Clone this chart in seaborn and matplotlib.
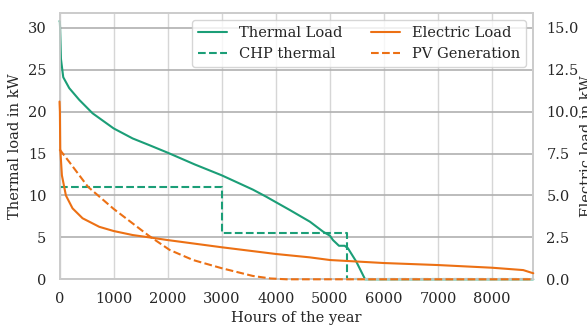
"""Annual load duration curves: thermal vs electric"""

import numpy as np
import pandas as pd
import seaborn as sns
from matplotlib import pyplot as plt

# thermal load duration curve (kW, left axis)
hours_thermal = [0, 7, 26, 69, 180, 365, 611, 1000, 1352, 1661, 2000, 2500, 3000,
                 3574, 3822, 4000, 4259, 4630, 4876, 5000, 5056, 5167, 5272, 5333,
                 5488, 5650, 8760]
thermal_load = [30.8, 30.7, 26.3, 24.1, 22.8, 21.4, 19.8, 18.0, 16.8, 16.0, 15.1, 13.7,
                12.4, 10.7, 9.85, 9.2, 8.26, 6.87, 5.67, 5.2, 4.68, 4.0, 4.0, 3.7,
                2.1, 0.0, 0.0]

# CHP thermal output (kW, left axis), step-wise
hours_chp = [0, 3010, 5315, 8760]
chp_thermal = [11.05, 5.55, 0.0, 0.0]

# electric load duration curve (kW, right axis)
hours_electric = [0, 7, 13, 44, 118, 241, 426, 735, 1000, 1352, 1661, 2000, 3000,
                  4000, 4624, 5000, 6000, 7000, 8000, 8574, 8700, 8760]
electric_load = [10.6, 10.0, 7.8, 6.2, 5.0, 4.23, 3.64, 3.13, 2.88, 2.64, 2.5, 2.34, 1.91,
                 1.51, 1.31, 1.15, 0.97, 0.85, 0.69, 0.55, 0.42, 0.36]

# PV generation duration curve (kW, right axis)
hours_pv = [0, 180, 525, 1000, 1650, 2037, 2469, 3000, 3574, 3900, 4200, 8760]
pv_generation = [7.75, 7.0, 5.52, 4.2, 2.6, 1.75, 1.15, 0.66, 0.2, 0.05, 0.0, 0.0]

green = '#1b9e77'
orange = '#ec7014'

sns.set_theme(style='whitegrid', context='notebook')
plt.rcParams['font.family'] = ['DejaVu Serif']
plt.rcParams.update({'font.size': 10.5, 'axes.labelsize': 10.5, 'xtick.labelsize': 10.5,
                     'ytick.labelsize': 10.5, 'legend.fontsize': 10.5})

fig, ax = plt.subplots(figsize=(5.87, 3.25), dpi=100)
fig.subplots_adjust(left=0.1014, right=0.9085, bottom=0.1406, top=0.961)

sns.lineplot(x=hours_thermal, y=thermal_load, ax=ax, color=green, lw=1.5,
             estimator=None, sort=False, label='Thermal Load', clip_on=False, zorder=3)
sns.lineplot(x=hours_chp, y=chp_thermal, ax=ax, color=green, lw=1.5, ls='--',
             drawstyle='steps-post', estimator=None, sort=False, label='CHP thermal',
             clip_on=False, zorder=3)

ax2 = ax.twinx()
ax2.grid(False)
sns.lineplot(x=hours_electric, y=electric_load, ax=ax2, color=orange, lw=1.5,
             estimator=None, sort=False, label='Electric Load', clip_on=False, zorder=3)
sns.lineplot(x=hours_pv, y=pv_generation, ax=ax2, color=orange, lw=1.5, ls='--',
             estimator=None, sort=False, label='PV Generation', clip_on=False, zorder=3)

ax.set_xlim(0, 8760)
ax.set_ylim(0, 31.8)
ax2.set_ylim(0, 15.9)
ax.set_yticks(np.arange(0, 31, 5))
ax2.set_yticks(np.arange(0, 15.1, 2.5))
ax.set_xticks(np.arange(0, 8001, 1000))
ax.tick_params(left=False, bottom=False)
ax2.tick_params(right=False)
ax.xaxis.grid(True, color='#d6d6d6', lw=1)
ax.yaxis.grid(True, color='#b0b0b0', lw=1.2)
ax.spines['bottom'].set_color('#b0b0b0')

ax.set_xlabel('Hours of the year', labelpad=3)
ax.set_ylabel('Thermal load in kW')
ax2.set_ylabel('Electric load in kW', labelpad=0.5)

h1, l1 = ax.get_legend_handles_labels()
h2, l2 = ax2.get_legend_handles_labels()
ax.get_legend().remove()
ax2.get_legend().remove()
ax2.legend(h1 + h2, l1 + l2, ncol=2, loc='upper right')

plt.savefig('out.png')
